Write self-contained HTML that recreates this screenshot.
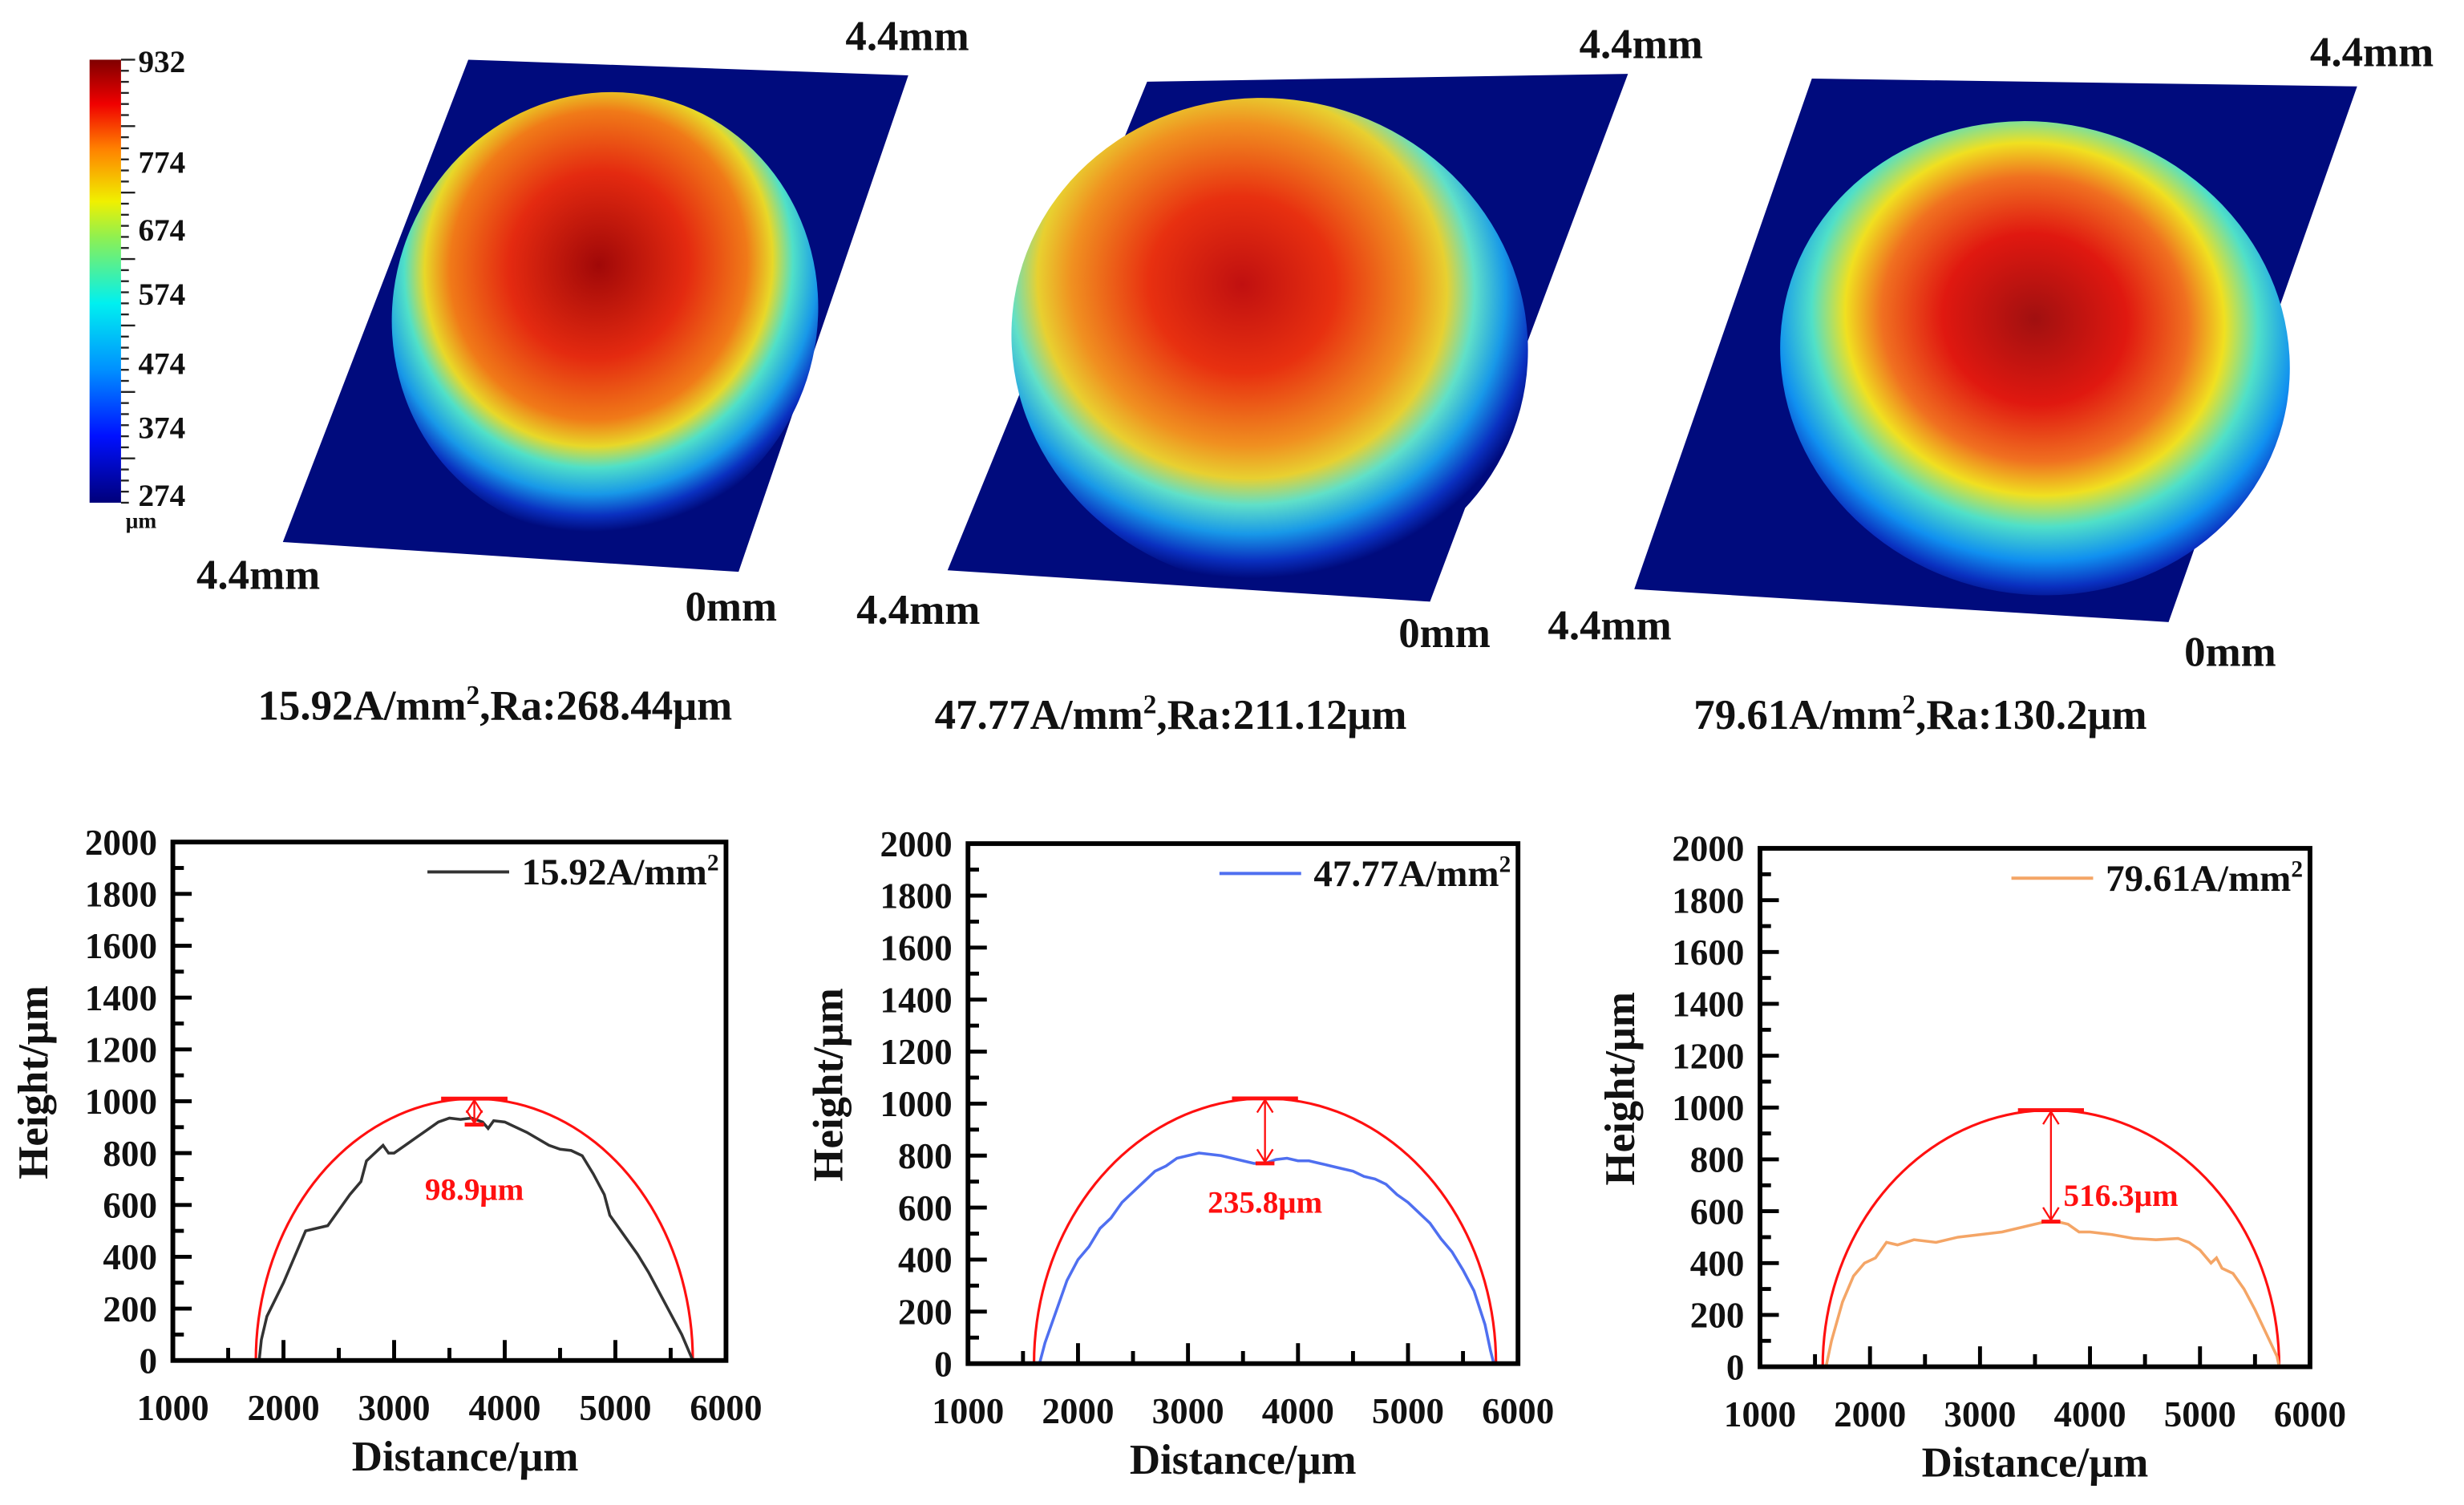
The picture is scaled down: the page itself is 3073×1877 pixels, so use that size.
<!DOCTYPE html>
<html><head><meta charset="utf-8"><style>
html,body{margin:0;padding:0;background:#fff;}
svg{display:block;}
text{font-family:"Liberation Serif",serif;font-weight:bold;fill:#111;}
</style></head>
<body>
<svg id="fig" width="3073" height="1877" viewBox="0 0 1568 958" preserveAspectRatio="none" xmlns="http://www.w3.org/2000/svg">
<defs>
<linearGradient id="cbar" x1="0" y1="1" x2="0" y2="0">
<stop offset="0" stop-color="#00007a"/><stop offset="0.15" stop-color="#0010ff"/><stop offset="0.3" stop-color="#0090ff"/><stop offset="0.45" stop-color="#00f0f0"/><stop offset="0.6" stop-color="#90f050"/><stop offset="0.68" stop-color="#f0f000"/><stop offset="0.8" stop-color="#ff8000"/><stop offset="0.9" stop-color="#f00000"/><stop offset="1" stop-color="#800000"/>
</linearGradient>
<radialGradient id="hm1" cx="0.45" cy="0.4" r="0.6">
<stop offset="0" stop-color="#a00808"/><stop offset="0.35" stop-color="#e42a10"/><stop offset="0.58" stop-color="#f07a18"/><stop offset="0.68" stop-color="#e8d828"/><stop offset="0.76" stop-color="#50e0c8"/><stop offset="0.86" stop-color="#1898e8"/><stop offset="0.94" stop-color="#0a30c0"/><stop offset="1" stop-color="#000b7d"/>
</radialGradient>
<radialGradient id="hm2" cx="0.42" cy="0.4" r="0.6">
<stop offset="0" stop-color="#c01010"/><stop offset="0.3" stop-color="#e83010"/><stop offset="0.55" stop-color="#f09020"/><stop offset="0.66" stop-color="#e8d030"/><stop offset="0.75" stop-color="#60e0c8"/><stop offset="0.85" stop-color="#1898e8"/><stop offset="0.94" stop-color="#0a30c0"/><stop offset="1" stop-color="#000b7d"/>
</radialGradient>
<radialGradient id="hm3" cx="0.48" cy="0.42" r="0.6">
<stop offset="0" stop-color="#a01010"/><stop offset="0.3" stop-color="#e01810"/><stop offset="0.5" stop-color="#f07020"/><stop offset="0.62" stop-color="#f0e020"/><stop offset="0.73" stop-color="#50e0c8"/><stop offset="0.85" stop-color="#1090f0"/><stop offset="0.94" stop-color="#0a30c0"/><stop offset="1" stop-color="#000b7d"/>
</radialGradient>
</defs>

<g>
<rect x="57" y="38" width="20" height="282" fill="url(#cbar)"/>
<text x="88" y="46" font-size="20">932</text>
<text x="88" y="110" font-size="20">774</text>
<text x="88" y="153" font-size="20">674</text>
<text x="88" y="194" font-size="20">574</text>
<text x="88" y="238" font-size="20">474</text>
<text x="88" y="279" font-size="20">374</text>
<text x="88" y="322" font-size="20">274</text>
<text x="80" y="336" font-size="14">μm</text>
<g id="cbticks" stroke="#222" stroke-width="1.2"></g>
</g>

<g>
<polygon points="298,38 578,48 470,364 180,345" fill="#000b7d"/>
<ellipse cx="385" cy="200" rx="135" ry="142" transform="rotate(18 385 200)" fill="url(#hm1)"/>
<text x="538" y="32" font-size="27">4.4mm</text>
<text x="125" y="375" font-size="27">4.4mm</text>
<text x="436" y="395" font-size="27">0mm</text>
<text x="315" y="458" font-size="27" text-anchor="middle">15.92A/mm<tspan font-size="17" dy="-10">2</tspan><tspan dy="10">,Ra:268.44μm</tspan></text>
</g>
<g>
<polygon points="730,52 1036,47 910,383 603,363" fill="#000b7d"/>
<ellipse cx="808" cy="218" rx="165" ry="155" transform="rotate(15 808 218)" fill="url(#hm2)"/>
<text x="1005" y="37" font-size="27">4.4mm</text>
<text x="545" y="397" font-size="27">4.4mm</text>
<text x="890" y="412" font-size="27">0mm</text>
<text x="745" y="464" font-size="27" text-anchor="middle">47.77A/mm<tspan font-size="17" dy="-10">2</tspan><tspan dy="10">,Ra:211.12μm</tspan></text>
</g>
<g>
<polygon points="1153,50 1500,55 1380,396 1040,375" fill="#000b7d"/>
<ellipse cx="1295" cy="228" rx="163" ry="150" transform="rotate(15 1295 228)" fill="url(#hm3)"/>
<text x="1470" y="42" font-size="27">4.4mm</text>
<text x="985" y="407" font-size="27">4.4mm</text>
<text x="1390" y="424" font-size="27">0mm</text>
<text x="1222" y="464" font-size="27" text-anchor="middle">79.61A/mm<tspan font-size="17" dy="-10">2</tspan><tspan dy="10">,Ra:130.2μm</tspan></text>
</g>
<g id="charts"></g>
</svg>
<script>
const xTicks = [1000, 2000, 3000, 4000, 5000, 6000];
const yTicks = [0, 200, 400, 600, 800, 1000, 1200, 1400, 1600, 1800, 2000];
const legendLabels = ["15.92A/mm", "47.77A/mm", "79.61A/mm"];
const gapLabels = ["98.9μm", "235.8μm", "516.3μm"];
const s1x = [1780,1800,1850,2000,2100,2200,2300,2400,2500,2600,2700,2750,2800,2900,2950,3000,3100,3200,3300,3400,3500,3600,3700,3800,3850,3900,4000,4200,4400,4500,4600,4700,4800,4900,4950,5000,5100,5200,5300,5400,5500,5600,5680,5700];
const s1y = [0,80,170,300,400,500,510,520,580,640,690,770,790,830,800,800,830,860,890,920,935,930,935,920,895,925,920,880,830,815,810,790,720,640,560,530,470,410,340,260,180,100,20,0];
const s2x = [1650,1700,1800,1900,2000,2100,2200,2300,2400,2500,2600,2700,2800,2900,3000,3100,3200,3300,3400,3500,3600,3700,3800,3900,4000,4100,4200,4300,4400,4500,4600,4700,4800,4900,5000,5100,5200,5300,5400,5500,5600,5700,5750,5780];
const s2y = [0,80,200,320,400,450,520,560,620,660,700,740,760,790,800,810,805,800,790,780,770,770,785,790,780,780,770,760,750,740,720,710,690,650,620,580,540,480,430,360,280,150,50,0];
const s3x = [1600,1650,1750,1850,1950,2050,2150,2250,2400,2600,2800,3000,3200,3400,3500,3600,3700,3800,3900,4000,4200,4400,4600,4800,4900,5000,5100,5150,5200,5300,5400,5500,5600,5700,5720];
const s3y = [0,100,250,350,400,420,480,470,490,480,500,510,520,540,550,560,560,550,520,520,510,495,490,495,480,450,400,420,380,360,300,220,130,40,0];
const arcStart = [1750, 1600, 1570];
const arcEnd = [5700, 5800, 5720];
const arcPeak = [1010, 1020, 990];
const gapLow = [910, 770, 560];
const seriesX = [s1x, s2x, s3x];
const seriesY = [s1y, s2y, s3y];
const colors = ["#333333", "#4f6ff0", "#f4a566"];
const boxes = [{l:110,r:462,t:536,b:866},{l:616,r:966,t:537,b:868},{l:1120,r:1470,t:540,b:870}];

const NS = "http://www.w3.org/2000/svg";
function mk(tag, attrs, parent){const e=document.createElementNS(NS,tag);for(const k in attrs)e.setAttribute(k,attrs[k]);parent.appendChild(e);return e;}
const cbt=document.getElementById('cbticks');
for(let i=0;i<=40;i++){const y=38+282*i/40;const t=mk('line',{x1:77,x2:i%6===0?86:82,y1:y,y2:y},cbt);}

const root=document.getElementById('charts');
boxes.forEach((B,ci)=>{
  const g=mk('g',{},root);
  
  
  const X=v=>B.l+(v-1000)/5000*(B.r-B.l);
  const Y=v=>B.b-v/2000*(B.b-B.t);
  for(let v=1500;v<6000;v+=500){const major=v%1000===0;const t=mk('line',{x1:X(v),x2:X(v),y1:B.b,y2:B.b-(major?13:8),stroke:'#000','stroke-width':2.5},g);}
  for(let v=100;v<2000;v+=100){const major=v%200===0;const t=mk('line',{x1:B.l,x2:B.l+(major?12:7),y1:Y(v),y2:Y(v),stroke:'#000','stroke-width':2.5},g);}
  xTicks.forEach(v=>{const t=mk('text',{x:X(v),y:B.b+38,'font-size':23,'text-anchor':'middle'},g);t.textContent=v;});
  yTicks.forEach(v=>{const t=mk('text',{x:B.l-10,y:Y(v)+8,'font-size':23,'text-anchor':'end'},g);t.textContent=v;});
  const xt=mk('text',{x:(B.l+B.r)/2-(ci===0?-10:0),y:B.b+70,'font-size':27,'text-anchor':'middle'},g);xt.textContent='Distance/μm';
  
  const yt=mk('text',{x:0,y:0,'font-size':27,'text-anchor':'middle',transform:`translate(${B.l-80},${(B.t+B.b)/2-12}) rotate(-90)`},g);yt.textContent='Height/μm';
  
  const a=arcStart[ci],b=arcEnd[ci],c=(a+b)/2,h=(b-a)/2;let d='';
  for(let i=0;i<=80;i++){const th=Math.PI*i/80;const vx=c-h*Math.cos(th);const vy=arcPeak[ci]*Math.sin(th);d+=(i?'L':'M')+X(vx).toFixed(2)+','+Y(vy).toFixed(2);}
  const arc=mk('path',{d:d,fill:'none',stroke:'#ff1010','stroke-width':1.6},g);
  
  const xs=seriesX[ci],ys=seriesY[ci];let p='M'+X(xs[0]-120)+','+Y(0)+'L';
  p+=xs.map((v,i)=>X(v).toFixed(2)+','+Y(ys[i]).toFixed(2)).join('L');p+='L'+X(xs[xs.length-1]+80)+','+Y(0);
  const ln=mk('path',{d:p,fill:'none',stroke:colors[ci],'stroke-width':1.8},g);
  
  const gx1=X(c-300),gx2=X(c+300);
  mk('line',{x1:gx1,x2:gx2,y1:Y(arcPeak[ci]),y2:Y(arcPeak[ci]),stroke:'#ff1010','stroke-width':2.5},g);
  mk('line',{x1:gx1+15,x2:gx2-15,y1:Y(gapLow[ci]),y2:Y(gapLow[ci]),stroke:'#ff1010','stroke-width':2.5},g);
  const ar=mk('line',{x1:X(c),x2:X(c),y1:Y(arcPeak[ci]),y2:Y(gapLow[ci]),stroke:'#ff1010','stroke-width':1.2},g);
  
  mk('path',{d:`M${X(c)-5},${Y(arcPeak[ci])+9}L${X(c)},${Y(arcPeak[ci])+1}L${X(c)+5},${Y(arcPeak[ci])+9}M${X(c)-5},${Y(gapLow[ci])-9}L${X(c)},${Y(gapLow[ci])-1}L${X(c)+5},${Y(gapLow[ci])-9}`,fill:'none',stroke:'#ff1010','stroke-width':1.2},g);
  const gl=mk('text',{x:ci===2?X(c)+8:X(c),y:Y(ci===0?620:ci===1?580:620),'font-size':20,'text-anchor':ci===2?'start':'middle',style:'fill:#ff1010'},g);gl.textContent=gapLabels[ci];
  
  const ly=B.t+19;
  mk('line',{x1:B.r-190,x2:B.r-138,y1:ly,y2:ly,stroke:colors[ci],'stroke-width':2},g);
  const lt=mk('text',{x:B.r-130,y:ly+8,'font-size':24},g);lt.textContent=legendLabels[ci];
  const sup=mk('tspan',{dy:-9,'font-size':15},lt);sup.textContent='2';
  
  const fr=mk('rect',{x:B.l,y:B.t,width:B.r-B.l,height:B.b-B.t,fill:'none',stroke:'#000','stroke-width':3},g);
  
});
</script>
</body></html>
